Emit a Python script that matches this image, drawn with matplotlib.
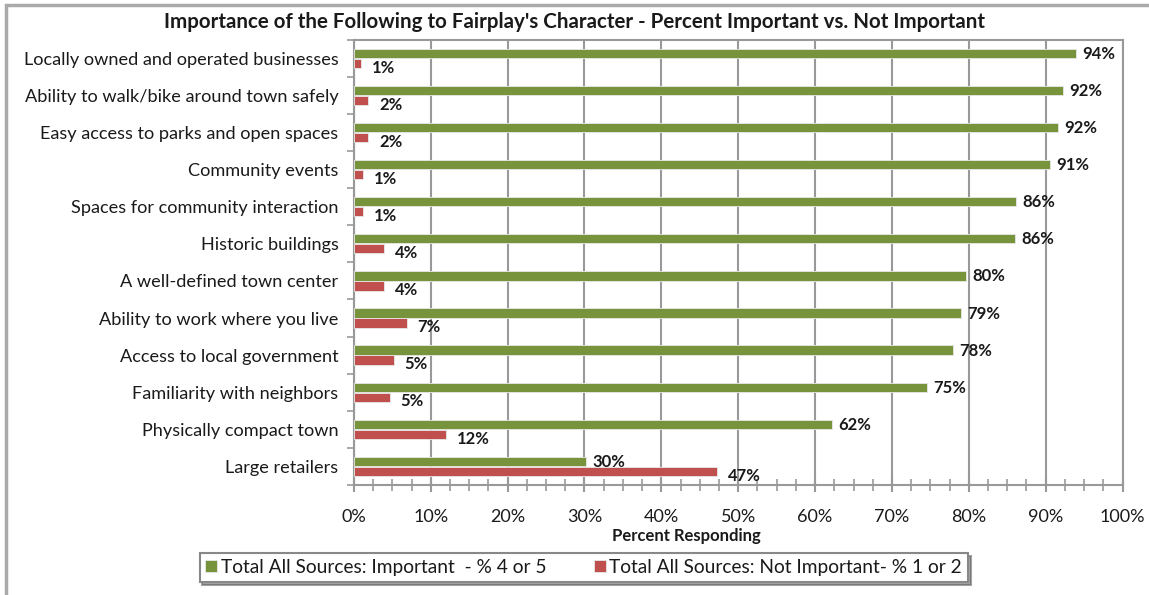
import numpy as np
import matplotlib
matplotlib.use("Agg")
import matplotlib.pyplot as plt
from matplotlib.patches import Rectangle
from matplotlib.ticker import MultipleLocator, FuncFormatter

plt.rcParams['font.family'] = ['Lato', 'DejaVu Sans']

# donnees
categories = [
    "Locally owned and operated businesses",
    "Ability to walk/bike around town safely",
    "Easy access to parks and open spaces",
    "Community events",
    "Spaces for community interaction",
    "Historic buildings",
    "A well-defined town center",
    "Ability to work where you live",
    "Access to local government",
    "Familiarity with neighbors",
    "Physically compact town",
    "Large retailers",
]
important = [93.9, 92.2, 91.6, 90.6, 86.2, 86.0, 79.6, 79.0, 78.0, 74.6, 62.2, 30.2]
important_lbl = ["94%", "92%", "92%", "91%", "86%", "86%", "80%", "79%", "78%", "75%", "62%", "30%"]
not_important = [0.9, 1.9, 1.9, 1.2, 1.2, 3.9, 3.9, 6.9, 5.2, 4.7, 12.0, 47.2]
not_important_lbl = ["1%", "2%", "2%", "1%", "1%", "4%", "4%", "7%", "5%", "5%", "12%", "47%"]

green = '#77933C'
red = '#C0504D'
grey = '#999999'
ink = '#1a1a1a'

fig = plt.figure(figsize=(11.49, 5.95), dpi=100)

# cadre exterieur du graphique
fig.patches.append(Rectangle((0.005, -0.05), 1.2, 1.042, transform=fig.transFigure,
                             fill=False, edgecolor='#AAAAAA', linewidth=2.5))

ax = fig.add_axes([0.308, 0.185, 0.669, 0.748])

n = len(categories)
y = np.arange(n)
h = 0.25
ax.barh(y - 0.135, important, height=h, color=green, edgecolor='#E8E8E8', linewidth=0.6,
        label="Total All Sources: Important  - % 4 or 5", zorder=3)
ax.barh(y + 0.135, not_important, height=h, color=red, edgecolor='#E8E8E8', linewidth=0.6,
        label="Total All Sources: Not Important- % 1 or 2", zorder=3)

for i in range(n):
    ax.text(important[i] + 0.8, y[i] - 0.12, important_lbl[i], va='center', ha='left',
            fontsize=12, fontweight='bold', color=ink, zorder=4)
    ax.text(not_important[i] + 1.4, y[i] + 0.25, not_important_lbl[i], va='center', ha='left',
            fontsize=12, fontweight='bold', color=ink, zorder=4)

ax.set_ylim(n - 0.5, -0.5)
ax.set_xlim(0, 100)
ax.set_yticks(y)
ax.set_yticklabels(categories, fontsize=13.1, color=ink)
ax.set_yticks(np.arange(n + 1) - 0.5, minor=True)
ax.tick_params(axis='y', which='major', length=0, pad=11)
ax.tick_params(axis='y', which='minor', length=5, color=grey, width=1.2)

ax.xaxis.set_major_locator(MultipleLocator(10))
ax.xaxis.set_minor_locator(MultipleLocator(2.5))
ax.xaxis.set_major_formatter(FuncFormatter(lambda v, p: f"{v:.0f}%"))
ax.tick_params(axis='x', which='major', direction='inout', length=10, width=1.5, color=grey,
               labelsize=13, labelcolor=ink, pad=12)
ax.tick_params(axis='x', which='minor', direction='inout', length=8, width=1.2, color=grey)
ax.grid(axis='x', which='major', color=grey, linewidth=1.5, zorder=0)
ax.set_axisbelow(True)

for s in ax.spines.values():
    s.set_color(grey)
    s.set_linewidth(1.5)

ax.set_xlabel("Percent Responding", fontsize=12, fontweight='bold', color=ink, labelpad=0)
ax.xaxis.set_label_coords(0.432, -0.097)

fig.text(0.5, 0.963, "Importance of the Following to Fairplay's Character - Percent Important vs. Not Important",
         ha='center', va='center', fontsize=14.8, fontweight='bold', color=ink)

# legende avec ombre
leg = fig.legend(loc='center', bbox_to_anchor=(0.508, 0.046), ncol=2, fontsize=13.8,
                 frameon=True, fancybox=False, shadow=True, edgecolor='#888888',
                 handlelength=0.6, handleheight=0.6, handletextpad=0.2, columnspacing=2.5,
                 borderpad=0.3, labelcolor=ink)
leg.get_frame().set_linewidth(1.5)

fig.savefig("out.png", dpi=100)
